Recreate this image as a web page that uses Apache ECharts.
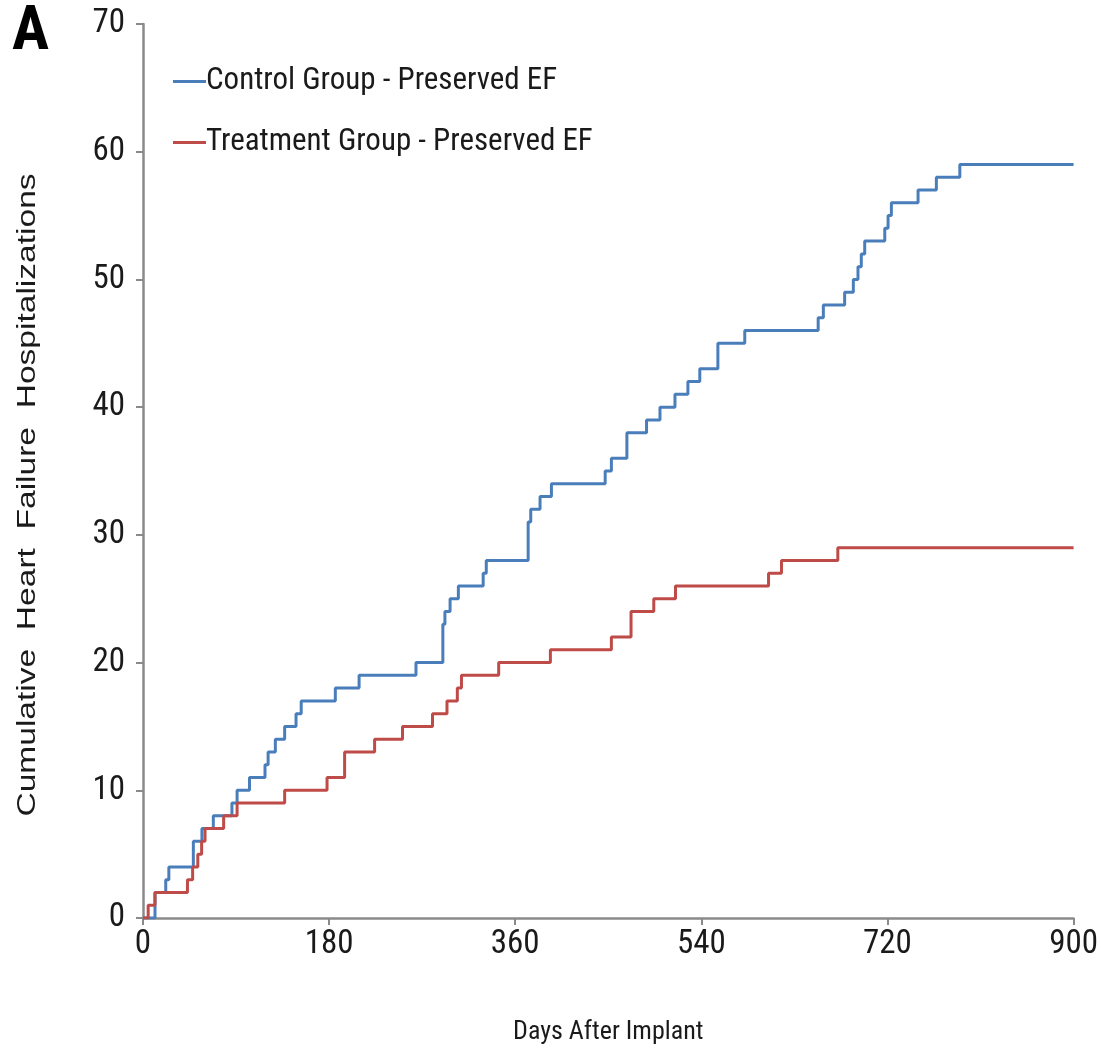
<!DOCTYPE html>
<html>
<head>
<meta charset="utf-8">
<script src="https://cdn.jsdelivr.net/npm/echarts@6/dist/echarts.min.js"></script>
<style>
html,body{margin:0;padding:0;background:#fff;}
#chart{width:1101px;height:1051px;}
</style>
</head>
<body>
<div id="chart"></div>
<script>
// Step events: day of event and cumulative count after it
var controlDays   = [0, 11.6, 22, 25, 48.7, 57, 68, 86, 91, 103, 118, 121, 128, 137, 148, 153, 186, 209, 264, 290, 292, 297, 305, 329, 332, 372.5, 375, 384, 395, 447, 453, 468, 487, 500, 514.5, 527, 538.5, 556, 582, 653, 658, 678.6, 687, 691.5, 694.7, 698, 717.4, 720.6, 723.8, 749.6, 767.3, 790, 900];
var controlCounts = [0, 2,    3,  4,  6,    7,  8,  9,  10, 11,  12,  13,  14,  15,  16,  17,  18,  19,  20,  23,  24,  25,  26,  27,  28,  31,    32,  33,  34,  35,  36,  38,  39,  40,  41,    42,  43,    45,  46,  47,  48,  49,    50,  51,    52,    53,  54,    55,    56,    57,    58,    59,  59];

var treatmentDays   = [0, 5, 11.6, 43, 48, 53, 56.7, 60, 78, 91, 137, 178, 195, 224, 251, 280, 294, 304, 308, 344, 394, 453, 472, 494, 515, 605, 617.5, 672, 900];
var treatmentCounts = [0, 1, 2,    3,  4,  5,  6,    7,  8,  9,  10,  11,  13,  14,  15,  16,  17,  18,  19,  20,  21,  22,  24,  25,  26,  27,  28,    29,  29];

var seriesNames = ['Control Group - Preserved EF', 'Treatment Group - Preserved EF'];
var xAxisTitle = 'Days After Implant';
var yAxisTitle = 'Cumulative  Heart  Failure  Hospitalizations';
var panelLabel = 'A';

function pairs(xs, ys){ return xs.map(function(x,i){ return [x, ys[i]]; }); }

var narrow = "'Liberation Sans Narrow','Arial Narrow','Roboto Condensed',sans-serif";
var chart = echarts.init(document.getElementById('chart'), null, {renderer:'canvas'});
chart.setOption({
  backgroundColor:'#ffffff',
  animation:false,
  grid:{left:143, right:27, top:24, bottom:133, containLabel:false},
  legend:{
    orient:'vertical', left:168, top:61,
    icon:'rect', itemWidth:33, itemHeight:3, itemGap:30,
    textStyle:{fontFamily:narrow, fontSize:31, color:'#1a1a1a', padding:[0,0,0,-5]},
    data:seriesNames
  },
  graphic:[
    {type:'text', left:12, top:2,
     style:{text:panelLabel, font:"bold 62px "+narrow, fill:'#000'}},
    {type:'text', x:28, y:495, rotation:Math.PI/2, scaleX:1.29, scaleY:1,
     style:{text:yAxisTitle, font:"26px 'Liberation Sans',Arial,sans-serif", fill:'#1a1a1a',
            align:'center', verticalAlign:'middle'}}
  ],
  xAxis:{
    type:'value', min:0, max:900, interval:180,
    name:xAxisTitle, nameLocation:'middle', nameGap:101,
    nameTextStyle:{fontFamily:narrow, fontSize:26, color:'#1a1a1a'},
    axisLine:{lineStyle:{color:'#8a8a8a', width:2.5}},
    axisTick:{show:true, length:7, lineStyle:{color:'#8a8a8a', width:2}},
    axisLabel:{fontFamily:narrow, fontSize:33, color:'#1a1a1a', margin:10},
    splitLine:{show:false}
  },
  yAxis:{
    type:'value', min:0, max:70, interval:10,
    axisLine:{show:true, lineStyle:{color:'#8a8a8a', width:2.5}},
    axisTick:{show:true, length:7, lineStyle:{color:'#8a8a8a', width:2}},
    axisLabel:{fontFamily:narrow, fontSize:33, color:'#1a1a1a', margin:18},
    splitLine:{show:false}
  },
  series:[
    {name:seriesNames[0], type:'line', step:'end', showSymbol:false, symbol:'none',
     lineStyle:{color:'#4a7ebb', width:3}, itemStyle:{color:'#4a7ebb'},
     data:pairs(controlDays, controlCounts)},
    {name:seriesNames[1], type:'line', step:'end', showSymbol:false, symbol:'none',
     lineStyle:{color:'#be4b48', width:3}, itemStyle:{color:'#be4b48'},
     data:pairs(treatmentDays, treatmentCounts)}
  ]
});
</script>
</body>
</html>
